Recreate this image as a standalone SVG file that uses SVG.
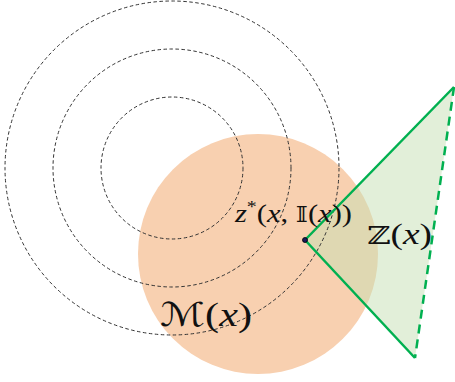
<svg xmlns="http://www.w3.org/2000/svg" width="455" height="382" viewBox="0 0 455 382">
<style>
.lvl{fill:none;stroke:#333;stroke-width:1;stroke-dasharray:3.5,2.5}
.g{stroke:#00b050;stroke-width:2.5;fill:none}
.i{font-style:italic}
</style>
<rect width="455" height="382" fill="#fff"/>
<g id="region-M">
<circle cx="258" cy="254" r="120" fill="#f8d0b0"/>
</g>
<g id="cone-Z">
<polygon points="305,240 454,87 415,358" fill="#c5e0b4" fill-opacity="0.5"/>
</g>
<g id="level-sets">
<circle class="lvl" cx="172" cy="168" r="71"/>
<circle class="lvl" cx="172" cy="168" r="119"/>
<circle class="lvl" cx="172" cy="168" r="167"/>
</g>
<g id="connectors">
<line class="g" x1="305" y1="240" x2="454" y2="87"/>
<line class="g" x1="305" y1="240" x2="415" y2="358"/>
<line class="g" x1="454" y1="87" x2="415" y2="358" stroke-dasharray="9,6"/>
</g>
<g id="point">
<circle cx="305" cy="240" r="2.5" fill="#1a1a5a" stroke="#000" stroke-width="0.8"/>
</g>
<g id="labels" font-family="Liberation Serif, serif" fill="#111">
<text x="235" y="222" font-size="26" textLength="117" lengthAdjust="spacingAndGlyphs"><tspan class="i">z</tspan><tspan font-size="17" dy="-10">*</tspan><tspan dy="10">(</tspan><tspan class="i">x</tspan>, <tspan font-family="DejaVu Serif, serif" font-size="22">𝕀</tspan>(<tspan class="i">x</tspan>))</text>
<text x="367" y="244" font-size="29" textLength="65" lengthAdjust="spacingAndGlyphs"><tspan font-family="DejaVu Serif, serif" font-size="25">ℤ</tspan>(<tspan class="i">x</tspan>)</text>
<text x="160" y="326" font-size="33" textLength="92" lengthAdjust="spacingAndGlyphs"><tspan font-family="DejaVu Sans, serif" font-size="33">ℳ</tspan>(<tspan class="i">x</tspan>)</text>
</g>
</svg>
